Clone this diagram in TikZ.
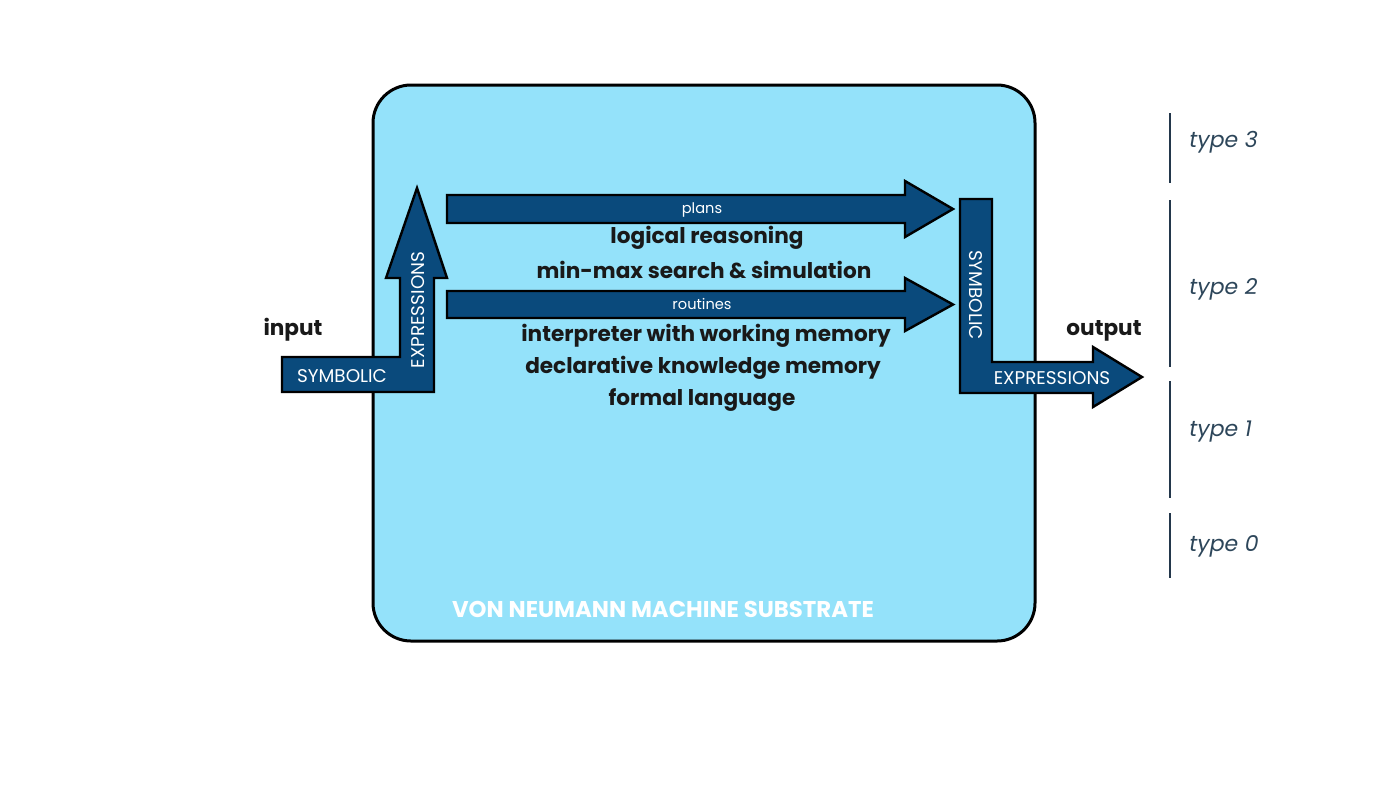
\documentclass[tikz,border=0pt]{standalone}
\usepackage{fontspec}
\setmainfont{Poppins}
\definecolor{boxblue}{RGB}{148,226,250}
\definecolor{arrowblue}{RGB}{10,74,124}
\definecolor{typecol}{RGB}{45,70,90}
\definecolor{typeline}{RGB}{35,55,75}
\begin{document}
\begin{tikzpicture}[x=0.5pt,y=-0.5pt,
  blockarrow/.style={fill=arrowblue,draw=black,line width=1.2pt,line join=miter},
  arrowlabel/.style={text=white,font=\fontsize{9.2}{10}\selectfont,inner sep=0pt},
  smalllabel/.style={text=white,font=\fontsize{7.3}{8}\selectfont,inner sep=0pt},
  boldtext/.style={text=black!90,font=\bfseries\fontsize{10.8}{12}\selectfont,inner sep=0pt},
  typetext/.style={text=typecol,font=\itshape\fontsize{11}{12}\selectfont,inner sep=0pt,anchor=west},
  typebar/.style={draw=typeline,line width=1pt}]
\useasboundingbox (0,0) rectangle (1400,788);
% substrate box
\draw[fill=boxblue,line width=1.5pt,rounded corners=19pt] (373,85) rectangle (1035,641);
\node[text=white,font=\bfseries\fontsize{11.4}{12}\selectfont,inner sep=0pt] (sub) at (663,609) {VON NEUMANN MACHINE SUBSTRATE};
% left L arrow
\draw[blockarrow] (282,357) -- (400,357) -- (400,278) -- (386,278) -- (417,188) -- (447,278) -- (434,278) -- (434,392) -- (282,392) -- cycle;
\node[arrowlabel] (symin) at (342,376) {SYMBOLIC};
\node[arrowlabel,rotate=90] (expin) at (418,310) {EXPRESSIONS};
\node[boldtext] (input) at (293,330) {input};
% plans arrow
\draw[blockarrow] (447,195) -- (905,195) -- (905,181) -- (953,209) -- (905,237) -- (905,223) -- (447,223) -- cycle;
\node[smalllabel] (plans) at (702,210) {plans};
\node[boldtext] (lr) at (707,238) {logical reasoning};
\node[boldtext] (mm) at (704,270) {min-max search \& simulation};
% routines arrow
\draw[blockarrow] (447,291) -- (905,291) -- (905,278) -- (953,304.5) -- (905,331) -- (905,318) -- (447,318) -- cycle;
\node[smalllabel] (routines) at (702,304) {routines};
\node[boldtext] (iw) at (706,336) {interpreter with working memory};
\node[boldtext] (dk) at (703,368) {declarative knowledge memory};
\node[boldtext] (fl) at (702,400) {formal language};
% right L arrow
\draw[blockarrow] (960,199) -- (992,199) -- (992,362) -- (1093,362) -- (1093,347) -- (1142,377) -- (1093,407) -- (1093,393) -- (960,393) -- cycle;
\node[arrowlabel,rotate=-90] (symout) at (976,295) {SYMBOLIC};
\node[arrowlabel] (expout) at (1052,378) {EXPRESSIONS};
\node[boldtext] (output) at (1104,331) {output};
% type scale
\draw[typebar] (1170,113) -- (1170,183);
\draw[typebar] (1170,200) -- (1170,367);
\draw[typebar] (1170,381) -- (1170,498);
\draw[typebar] (1170,513) -- (1170,578);
\node[typetext] (t3) at (1189,142) {type 3};
\node[typetext] (t2) at (1189,289) {type 2};
\node[typetext] (t1) at (1189,432) {type 1};
\node[typetext] (t0) at (1189,546) {type 0};
\end{tikzpicture}
\end{document}
